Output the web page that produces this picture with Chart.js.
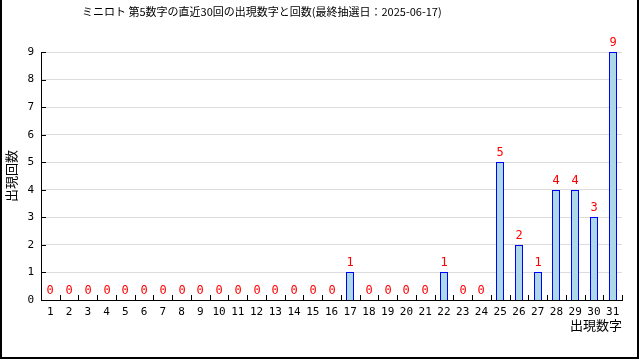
<!DOCTYPE html>
<html>
<head>
<meta charset="utf-8">
<script src="https://cdn.jsdelivr.net/npm/chart.js@4.4.0/dist/chart.umd.min.js"></script>
<style>
body{margin:0;background:#fff;}
</style>
</head>
<body>
<canvas id="chart" width="640" height="360"></canvas>
<script>
//lotto numbers on the x axis
var numbers=["1","2","3","4","5","6","7","8","9","10","11","12","13","14","15","16",
  "17","18","19","20","21","22","23","24","25","26","27","28","29","30","31"];
//how many times each number came out in the last 30 draws
var counts=[0,0,0,0,0,0,0,0,0,0,0,0,0,0,0,0,
  1,0,0,0,0,1,0,0,5,2,1,4,4,3,9];
//y axis range
var yMin=0;
var yMax=9;
//texts
var chartTitle="ミニロト 第5数字の直近30回の出現数字と回数(最終抽選日：2025-06-17)";
var xTitle="出現数字";
var yTitle="出現回数";

var monoFont='"DejaVu Sans Mono", "Noto Sans CJK JP", monospace';
var jpFont='"Noto Sans CJK JP", sans-serif';

//white background, title text and the black frame round the picture
var framePlugin={
  id:'frame',
  beforeDraw:function(chart){
    var ctx=chart.ctx;
    ctx.save();
    ctx.fillStyle='#fff';
    ctx.fillRect(0,0,chart.width,chart.height);
    ctx.fillStyle='#000';
    ctx.font='11px '+jpFont;
    ctx.textAlign='left';
    ctx.textBaseline='middle';
    ctx.fillText(chartTitle,82,12);
    ctx.restore();
  },
  afterDraw:function(chart){
    var ctx=chart.ctx;
    ctx.save();
    ctx.fillStyle='#000';
    ctx.fillRect(0,0,2,359);
    ctx.fillRect(637,0,2,359);
    ctx.fillRect(0,357,639,2);
    ctx.restore();
  }
};

//snap bars to whole pixels so the thin borders stay sharp
var snapBars={
  id:'snapBars',
  beforeDatasetsDraw:function(chart){
    chart.getDatasetMeta(0).data.forEach(function(bar){
      bar.x=Math.round(bar.x);
      bar.y=Math.round(bar.y);
      bar.base=Math.round(bar.base);
    });
  }
};

//short inner ticks on both axes
var innerTicks={
  id:'innerTicks',
  afterDraw:function(chart){
    var ctx=chart.ctx;
    var area=chart.chartArea;
    var xs=chart.scales.x;
    var ys=chart.scales.y;
    ctx.save();
    ctx.strokeStyle='#000';
    ctx.lineWidth=1;
    ctx.beginPath();
    for(var v=yMin+1;v<=yMax;v++){
      var y=Math.round(ys.getPixelForValue(v))+0.5;
      ctx.moveTo(area.left,y);
      ctx.lineTo(area.left+5,y);
    }
    for(var i=0;i<=numbers.length;i++){
      var x=Math.round(xs.getPixelForValue(i-0.5))+0.5;
      ctx.moveTo(x,area.bottom);
      ctx.lineTo(x,area.bottom-5);
    }
    ctx.stroke();
    ctx.restore();
  }
};

//red count above every bar
var valueLabels={
  id:'valueLabels',
  afterDatasetsDraw:function(chart){
    var ctx=chart.ctx;
    var meta=chart.getDatasetMeta(0);
    ctx.save();
    ctx.fillStyle='#ff0000';
    ctx.font='12px '+monoFont;
    ctx.textAlign='center';
    ctx.textBaseline='bottom';
    meta.data.forEach(function(bar,i){
      ctx.fillText(String(counts[i]),bar.x,bar.y-3);
    });
    ctx.restore();
  }
};

Chart.defaults.color='#000';
Chart.defaults.font.family=monoFont;

var plot=new Chart(document.getElementById("chart"),{
  type:'bar',
  data:{
    labels:numbers,
    datasets:[{
      label:yTitle,
      data:counts,
      backgroundColor:'#add8e6',
      borderColor:'#0000ff',
      borderWidth:1,
      borderSkipped:'bottom',
      inflateAmount:0,
      barThickness:8
    }]
  },
  options:{
    responsive:false,
    animation:false,
    layout:{padding:{left:0,right:18,top:52,bottom:0}},
    plugins:{
      legend:{display:false},
      tooltip:{enabled:false},
      title:{display:false}
    },
    scales:{
      x:{
        offset:true,
        grid:{display:false,drawTicks:false},
        border:{display:true,color:'#000',width:1},
        ticks:{font:{size:11},padding:6,maxRotation:0,autoSkip:false},
        title:{display:true,text:xTitle,align:'end',font:{family:jpFont,size:13},padding:{top:0,bottom:27}},
        afterFit:function(scale){scale.height=60;}
      },
      y:{
        min:yMin,
        max:yMax,
        grid:{color:'#dddddd',drawTicks:false},
        border:{display:true,color:'#000',width:1},
        ticks:{stepSize:1,font:{size:11},padding:7},
        title:{display:true,text:yTitle,font:{family:jpFont,size:13},padding:{top:3,bottom:0}},
        afterFit:function(scale){scale.width=41;}
      }
    }
  },
  plugins:[framePlugin,snapBars,innerTicks,valueLabels]
});
</script>
</body>
</html>
